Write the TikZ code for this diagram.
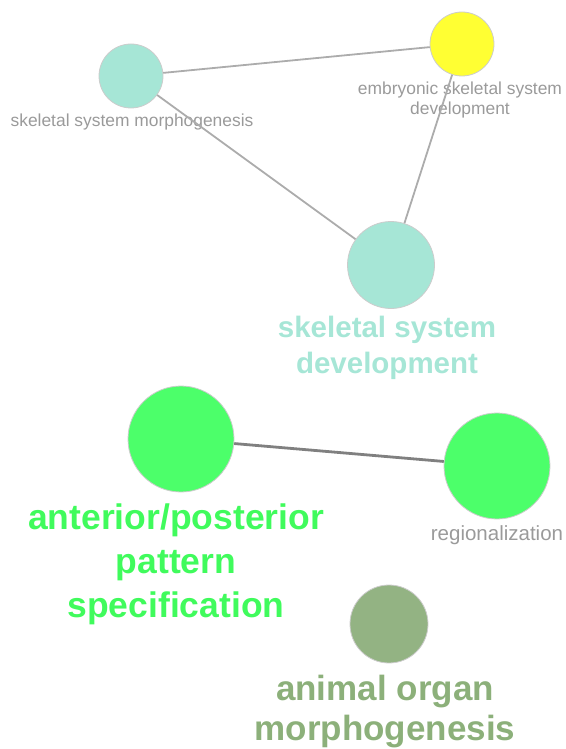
\documentclass[tikz,border=0pt]{standalone}
\usepackage{fontspec}
\setmainfont{Liberation Sans}
\usepackage{xcolor}
\usepackage{tikz}

\definecolor{teal1}{HTML}{A6E6D6}
\definecolor{yel1}{HTML}{FFFF33}
\definecolor{grn1}{HTML}{4CFF6A}
\definecolor{grntxt}{HTML}{40FB5C}
\definecolor{olv1}{HTML}{93B383}
\definecolor{olvtxt}{HTML}{8CB07A}
\definecolor{lbl}{HTML}{9A9A9A}

\begin{document}
\begin{tikzpicture}[
  x=1pt, y=-1pt,
  term/.style={circle, draw=gray!40, line width=0.8pt, inner sep=0pt},
  small/.style={text=lbl, align=center, inner sep=0pt, font=\fontsize{17.4}{20}\selectfont},
  big/.style 2 args={align=center, inner sep=0pt, font=\bfseries\fontsize{#1}{#2}\selectfont},
  link/.style={draw=gray!65, line width=1.8pt},
  strong/.style={draw=gray, line width=2.8pt}
]
\useasboundingbox (0,0) rectangle (565,749);
% terms
\node[term, fill=teal1, minimum size=64pt] (ssm) at (131,76) {};
\node[term, fill=yel1,  minimum size=64pt] (esd) at (462,44) {};
\node[term, fill=teal1, minimum size=87pt] (ssd) at (391,265) {};
\node[term, fill=grn1,  minimum size=106pt] (aps) at (181,439) {};
\node[term, fill=grn1,  minimum size=106pt] (reg) at (497,466) {};
\node[term, fill=olv1,  minimum size=78pt] (aom) at (389,624) {};
% labels
\node[small] (ssmlbl) at (132,122) {skeletal system morphogenesis};
\node[small] (esdlbl) at (460,100) {embryonic skeletal system\\development};
\node[small, font=\fontsize{20.5}{22}\selectfont] (reglbl) at (497,535) {regionalization};
\node[big={29.5}{36}, text=teal1] (ssdlbl) at (387,348) {skeletal system\\development};
\node[big={35.5}{44}, text=grntxt] (apslbl) at (176,564) {anterior/posterior\\pattern\\specification};
\node[big={35}{40}, text=olvtxt] (aomlbl) at (385,712) {animal organ\\morphogenesis};
% edges
\draw[link] (ssm) -- (esd);
\draw[link] (ssm) -- (ssd);
\draw[link] (esd) -- (ssd);
\draw[strong] (aps) -- (reg);
\end{tikzpicture}
\end{document}
